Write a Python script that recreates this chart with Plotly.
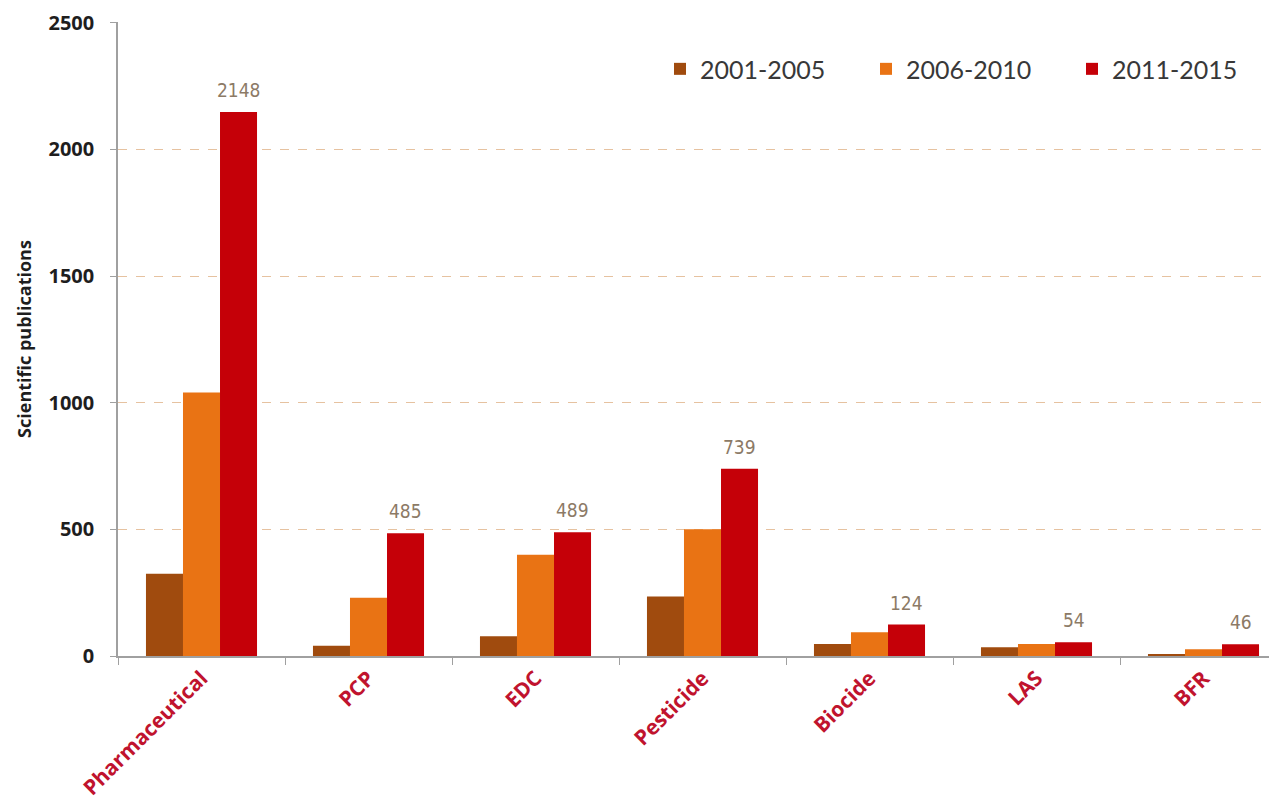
import plotly.graph_objects as go

categories = ["Pharmaceutical", "PCP", "EDC", "Pesticide", "Biocide", "LAS", "BFR"]
periods = ["2001-2005", "2006-2010", "2011-2015"]
v2001_2005 = [325, 40, 78, 235, 47, 35, 8]
v2006_2010 = [1040, 230, 400, 500, 94, 47, 27]
v2011_2015 = [2148, 485, 489, 739, 124, 54, 46]
y_ticks = [0, 500, 1000, 1500, 2000, 2500]

colors = ["#A04B0E", "#E97314", "#C50008"]
series = [v2001_2005, v2006_2010, v2011_2015]

fig = go.Figure()
for name, vals, col in zip(periods, series, colors):
    fig.add_trace(go.Bar(x=categories, y=vals, name=name, marker_color=col,
                         marker_line_width=0))

for cat, val in zip(categories, v2011_2015):
    fig.add_annotation(x=cat, y=val, xref="x", yref="y", text=str(val),
                       showarrow=False, xshift=37, yshift=9, yanchor="bottom",
                       font=dict(family="Liberation Sans Narrow, DejaVu Sans Condensed, sans-serif",
                                 size=19, color="#8C7A66"))

L, T, B = 110, 14, 163
plot_w = 1277 - L
fig.update_layout(
    width=1277, height=811,
    margin=dict(l=L, r=0, t=T, b=B),
    paper_bgcolor="white", plot_bgcolor="white",
    barmode="group", bargap=0.335, bargroupgap=0,
    legend=dict(orientation="h", x=(652 - L) / plot_w, y=0.962, xanchor="left", yanchor="top",
                font=dict(family="Lato, sans-serif", size=25, color="#383838"),
                entrywidth=161, itemwidth=30, traceorder="normal",
                bgcolor="rgba(0,0,0,0)"),
    xaxis=dict(range=[-0.5, -0.5 + plot_w / 167], showline=True, linecolor="#A0A0A0",
               linewidth=1.5, ticks="outside", tickson="boundaries", ticklen=7,
               tickcolor="#A0A0A0", tickangle=-45, showgrid=False, automargin=False,
               tickfont=dict(family="Open Sans, sans-serif", size=21, color="#C0132E",
                             weight="bold")),
    yaxis=dict(range=[0, 2503], tickvals=y_ticks, showline=True, linecolor="#A0A0A0",
               linewidth=1.5, ticks="outside", ticklen=6, tickcolor="#A0A0A0",
               showgrid=True, gridcolor="#E6C2A0", griddash="dash", gridwidth=1,
               zeroline=False, automargin=False, ticklabelstandoff=12,
               ticklabeloverflow="allow",
               tickfont=dict(family="Open Sans, sans-serif", size=20, color="#1E1E1E",
                             weight="bold"),
               title=dict(text="Scientific publications", standoff=12,
                          font=dict(family="Open Sans, sans-serif", size=18, color="#1E1E1E",
                                    weight="bold"))),
)

fig.write_html("out.html")
